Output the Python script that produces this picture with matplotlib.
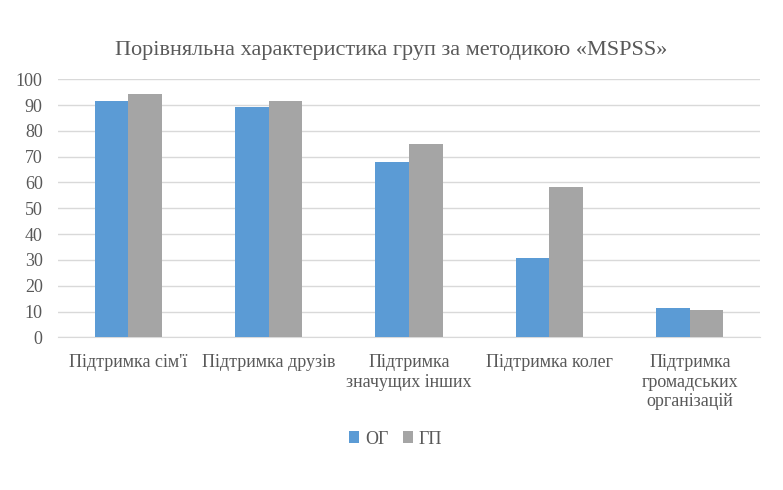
import matplotlib
matplotlib.use('Agg')
import matplotlib.pyplot as plt
import numpy as np

categories = ['Підтримка сім\'ї', 'Підтримка друзів', 'Підтримка\nзначущих інших',
              'Підтримка колег', 'Підтримка\nгромадських\nорганізацій']
og = [91.6, 89.2, 67.8, 30.9, 11.3]
gp = [94.3, 91.6, 74.8, 58.2, 10.5]
yticks = list(range(0, 101, 10))

plt.rcParams['font.family'] = ['Liberation Serif', 'DejaVu Serif']
text_col = '#595959'

fig = plt.figure(figsize=(7.83, 4.9), dpi=100)
ax = fig.add_axes([58 / 783, 1 - 337.3 / 490, 702 / 783, 258 / 490])

x = np.arange(len(categories))
w = 0.24
ax.bar(x - w / 2, og, w, color='#5B9BD5', label='ОГ', zorder=3)
ax.bar(x + w / 2, gp, w, color='#A5A5A5', label='ГП', zorder=3)

ax.set_xlim(-0.5, len(categories) - 0.5)
ax.set_ylim(0, 100)
ax.set_yticks(yticks)
ax.set_xticks(x)
ax.set_xticklabels(categories, linespacing=1.2)
ax.grid(axis='y', color='#d9d9d9', linewidth=1, zorder=0)
for s in ['top', 'right', 'left']:
    ax.spines[s].set_visible(False)
ax.spines['bottom'].set_color('#d9d9d9')
ax.tick_params(axis='y', length=0, pad=11, labelsize=13, labelcolor=text_col)
ax.tick_params(axis='x', length=0, pad=12, labelsize=13, labelcolor=text_col)

fig.text(0.5, 1 - 50 / 490, 'Порівняльна характеристика груп за методикою «MSPSS»',
         ha='center', va='center', fontsize=16, color=text_col)

fig.legend(loc='center', bbox_to_anchor=(0.505, 1 - 439 / 490), ncol=2, frameon=False,
           handlelength=0.6, handleheight=0.6, handletextpad=0.3, columnspacing=0.8,
           fontsize=13, labelcolor=text_col)

fig.savefig('out.png', dpi=100)
